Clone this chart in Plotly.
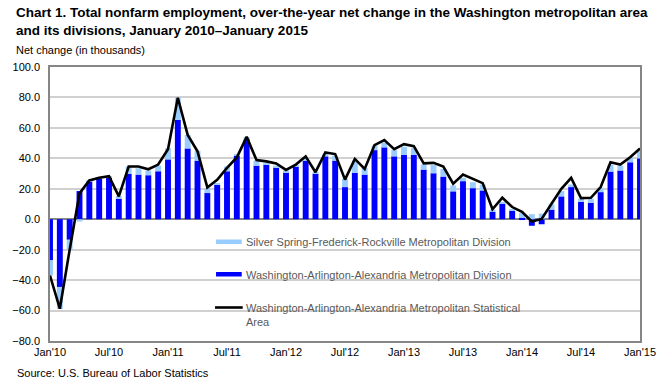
import plotly.graph_objects as go

# ---- data (thousands, over-the-year net change) ----
months = [f"{m}'{y:02d}" for y in range(10, 15) for m in
          ["Jan", "Feb", "Mar", "Apr", "May", "Jun", "Jul", "Aug", "Sep", "Oct", "Nov", "Dec"]] + ["Jan'15"]

waa_division = [
    -27.0, -44.5, -13.5, 18.5, 25.0, 26.5, 27.6, 13.5, 29.8, 29.3, 28.9, 31.5,
    39.3, 65.2, 46.5, 38.5, 17.2, 22.6, 31.5, 41.7, 52.6, 35.2, 35.9, 34.1,
    30.9, 34.6, 38.9, 29.8, 41.3, 38.5, 21.1, 30.4, 29.3, 45.4, 47.2, 41.3,
    42.2, 42.2, 32.6, 30.2, 28.0, 18.3, 25.0, 20.4, 18.9, 4.8, 10.2, 5.4,
    1.0, -4.3, -3.3, 6.3, 15.0, 21.1, 11.3, 10.7, 17.8, 31.3, 32.0, 37.4,
    40.0,
]
ssfr_division = [
    -10.0, -14.5, -6.5, -1.5, 0.8, 0.8, 0.6, 1.7, 4.8, 4.2, 3.1, 3.7,
    7.4, 14.6, 8.9, 6.5, 3.2, 1.1, 3.1, 0.5, 1.4, 3.3, 0.8, 1.1,
    1.1, 0.8, 1.3, 0.8, 1.5, 3.2, 5.4, 8.1, 4.4, 2.9, 3.2, 4.1,
    5.4, 4.5, 3.3, 5.4, 5.0, 3.9, 2.2, 3.9, 3.9, 1.5, 1.1, 0.9,
    3.0, 3.3, 3.7, 3.5, 3.5, 1.7, 2.2, 2.8, 2.9, 4.6, 3.2, 3.3,
    5.0,
]
msa_total = [
    -37.0, -58.8, -20.0, 17.0, 25.5, 27.2, 28.3, 15.0, 34.6, 34.6, 32.8, 35.9,
    46.0, 79.8, 55.4, 44.6, 20.9, 25.9, 33.7, 40.6, 54.1, 38.9, 38.0, 36.7,
    32.4, 35.9, 41.3, 30.9, 43.9, 42.8, 26.0, 39.6, 33.0, 48.7, 52.0, 46.0,
    49.3, 48.0, 36.7, 37.0, 34.6, 23.3, 29.3, 26.5, 23.7, 6.5, 14.1, 8.0,
    4.8, -1.5, 0.2, 10.2, 20.0, 27.2, 13.9, 14.1, 21.1, 37.4, 35.9, 40.7,
    46.5,
]

tick_labels = ["Jan'10", "Jul'10", "Jan'11", "Jul'11", "Jan'12", "Jul'12",
               "Jan'13", "Jul'13", "Jan'14", "Jul'14", "Jan'15"]
y_ticks = [-80, -60, -40, -20, 0, 20, 40, 60, 80, 100]

title_lines = ["Chart 1. Total nonfarm employment, over-the-year net change in the Washington metropolitan area",
               "and its divisions, January 2010\u2013January 2015"]
legend_names = ["Silver Spring-Frederick-Rockville Metropolitan Division",
                "Washington-Arlington-Alexandria Metropolitan Division",
                "Washington-Arlington-Alexandria Metropolitan Statistical<br>Area"]

BLUE = "#0000FF"
LIGHT = "#99CCFF"
GRID = "#D0D0D0"
AXIS = "#868686"
FONT = "Liberation Sans, Arial, sans-serif"

W, H = 670, 385
L, R, T, B = 43, 30, 67, 44
PW, PH = W - L - R, H - T - B

fig = go.Figure()
fig.add_trace(go.Bar(x=months, y=waa_division, name=legend_names[1],
                     marker=dict(color=BLUE, line=dict(width=0)), showlegend=False))
fig.add_trace(go.Bar(x=months, y=ssfr_division, name=legend_names[0],
                     marker=dict(color=LIGHT, line=dict(width=0)), showlegend=False))
fig.add_trace(go.Scatter(x=months, y=msa_total, name=legend_names[2], mode="lines",
                         line=dict(color="black", width=2.6), showlegend=False))


def px_x(px):
    return (px - L) / PW


def px_y(py):
    return (H - B - py) / PH


shapes = []
annotations = []
# custom legend (swatches + labels)
shapes.append(dict(type="rect", xref="paper", yref="paper", x0=px_x(211), x1=px_x(237),
                   y0=px_y(244), y1=px_y(239.5), fillcolor=LIGHT, line=dict(width=0)))
shapes.append(dict(type="rect", xref="paper", yref="paper", x0=px_x(211), x1=px_x(237),
                   y0=px_y(276.5), y1=px_y(272), fillcolor=BLUE, line=dict(width=0)))
shapes.append(dict(type="line", xref="paper", yref="paper", x0=px_x(210), x1=px_x(238),
                   y0=px_y(307.5), y1=px_y(307.5), line=dict(color="black", width=2.6)))
for name, yc in zip(legend_names, [241.5, 274.5, 307.5]):
    annotations.append(dict(text=name, xref="paper", yref="paper", x=px_x(239),
                            y=px_y(yc - 7.5), xanchor="left", yanchor="top", showarrow=False,
                            align="left", font=dict(size=11, color="#595959", family=FONT)))

for line_text, yc in zip(title_lines, [13, 30]):
    annotations.append(dict(text=f"<b>{line_text}</b>", xref="paper", yref="paper",
                            x=px_x(7), y=px_y(yc), xanchor="left", yanchor="middle",
                            showarrow=False, font=dict(size=13.5, color="#000000", family=FONT)))

annotations.append(dict(text="Net change (in thousands)", xref="paper", yref="paper",
                        x=px_x(7), y=px_y(50), xanchor="left", yanchor="middle",
                        showarrow=False, font=dict(size=11, color="#000000", family=FONT)))
annotations.append(dict(text="Source: U.S. Bureau of Labor Statistics", xref="paper",
                        yref="paper", x=px_x(8), y=px_y(373), xanchor="left", yanchor="middle",
                        showarrow=False, font=dict(size=11, color="#000000", family=FONT)))

fig.update_layout(
    width=W, height=H,
    margin=dict(l=L, r=R, t=T, b=B),
    paper_bgcolor="white", plot_bgcolor="white",
    barmode="relative", bargap=0.4,
    font=dict(family=FONT, size=11, color="#000000"),
    shapes=shapes,
    annotations=annotations,
    xaxis=dict(type="category", range=[0, len(months) - 1], tickmode="array",
               tickvals=tick_labels, ticktext=tick_labels, showgrid=False,
               showline=True, linecolor=AXIS, linewidth=1.5, mirror=True,
               ticks="", tickfont=dict(size=11, color="#000000")),
    yaxis=dict(range=[-80, 100], tickmode="array", tickvals=y_ticks, tickformat=".1f",
               showgrid=True, gridcolor=GRID, gridwidth=1.5,
               zeroline=True, zerolinecolor=AXIS, zerolinewidth=1.5,
               showline=True, linecolor=AXIS, linewidth=1.5, mirror=True,
               ticks="", ticklabelstandoff=6, tickfont=dict(size=11, color="#000000")),
)

fig.write_html("out.html", config={"displayModeBar": False},
               post_script="document.body.style.margin='0';document.body.style.overflow='hidden';")
